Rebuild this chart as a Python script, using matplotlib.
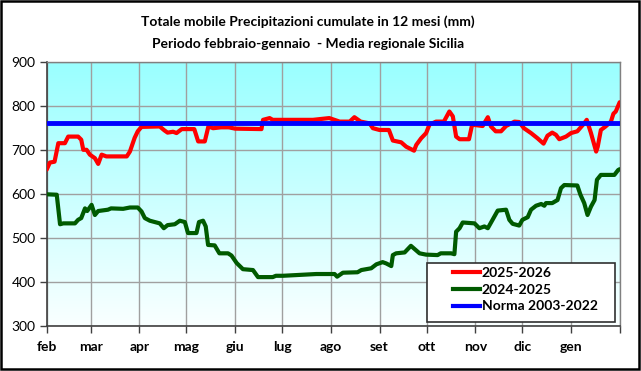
import numpy as np
import matplotlib
matplotlib.use("Agg")
import matplotlib.pyplot as plt
from matplotlib.patches import Rectangle
from matplotlib.lines import Line2D

plt.rcParams['font.family'] = ['Lato', 'DejaVu Sans']

# ---- data ----
month_labels = ["feb", "mar", "apr", "mag", "giu", "lug", "ago", "set", "ott", "nov", "dic", "gen"]
month_starts = [0, 28, 59, 89, 120, 150, 181, 212, 242, 273, 303, 334, 365]

red_days = [0, 2, 5, 7.4, 11.6, 13.7, 20, 22, 23.3, 25.4, 27.5, 30.7, 32.8, 35, 38, 51, 53, 56, 58, 60.4,
            72, 75, 77, 80.5, 82.7, 86, 94, 96.5, 100.7, 103, 106, 111, 116, 120, 136.8, 137.8, 142, 144,
            169.6, 180, 186.6, 193, 196, 200, 205.7, 207.8, 212, 218, 220.5, 225.8, 229, 234, 235.4, 238.5,
            241.7, 243.8, 248, 253, 256.5, 258.7, 260.8, 263, 269, 271, 277.7, 281, 283, 286, 289.4, 292.6,
            298, 301, 304, 308.5, 312.7, 316.5, 319, 322, 324.4, 326.5, 330.8, 334, 338, 342.4, 344, 346.7,
            350, 351, 353, 356, 359.4, 361, 362.5, 365]
red_vals = [655, 671, 673, 715, 715, 730, 730, 723, 700, 700, 689, 681, 668, 689, 685, 685, 696, 727, 742, 752,
            753, 744, 739, 741, 738, 747, 747, 719, 719, 753, 749, 751, 751, 748, 747, 768, 772, 768,
            768, 772, 764, 764, 774, 764, 760, 749, 745, 745, 721, 717, 707, 698, 711, 726,
            738, 757, 764, 764, 787, 776, 730, 724, 724, 757, 754, 774, 753, 742, 742, 754,
            764, 763, 749, 738, 726, 714, 732, 739, 734, 724, 730, 738, 742, 760, 768, 738,
            696, 707, 745, 753, 764, 782, 787, 808]

green_days = [0, 6.4, 8.5, 10.6, 18, 20, 22, 24.4, 25.8, 28.6, 30.7, 32.8, 39, 41, 48.7, 53, 58, 60.4, 62.5,
              65.7, 72, 74.6, 77, 81.6, 84.8, 88, 90, 95.4, 97, 99.6, 101.3, 102.8, 107, 110, 115.5, 117.7,
              121, 125, 131.4, 134.6, 144, 146, 150.5, 171.7, 183.4, 185, 188.7, 198, 200.4, 206.7, 210,
              214, 216.3, 219.5, 220.5, 222.6, 228, 232, 237.5, 241.7, 249, 251, 257.6, 259.7, 260.8, 263,
              265, 272.5, 275.6, 278.8, 281, 284, 287.3, 292.6, 294.7, 296.8, 301, 303, 306.4, 308.5, 311.7,
              315, 317, 318, 322, 325.4, 327.6, 329.7, 338, 340, 342.4, 344.5, 346.7, 349, 350.5, 353,
              361.6, 364, 365]
green_vals = [599, 598, 531, 533, 533, 541, 545, 567, 561, 575, 552, 561, 564, 567, 566, 569, 569, 560, 545,
              539, 533, 522, 529, 531, 539, 536, 511, 511, 536, 539, 526, 484, 483, 465, 465, 460,
              443, 429, 427, 411, 411, 414, 414, 418, 418, 412, 421, 422, 427, 431, 440,
              445, 442, 436, 461, 465, 467, 482, 465, 462, 461, 465, 465, 463, 514, 522,
              535, 533, 522, 526, 522, 541, 562, 564, 541, 532, 528, 541, 547, 564, 573,
              577, 573, 579, 579, 586, 613, 620, 619, 598, 579, 552, 571, 586, 632, 643,
              643, 654, 656]

norma_value = 760
series_labels = ["2025-2026", "2024-2025", "Norma 2003-2022"]
title_lines = ["Totale mobile Precipitazioni cumulate in 12 mesi (mm)",
               "Periodo febbraio-gennaio  - Media regionale Sicilia"]

# ---- figure ----
W, H = 641, 371
fig = plt.figure(figsize=(W / 100, H / 100), dpi=100)
fig.patch.set_facecolor("white")

L, R, T, B = 46.7, 619.7, 61.7, 326.0
ax = fig.add_axes([L / W, 1 - B / H, (R - L) / W, (B - T) / H])

xmin, xmax = 0, 365
ymin, ymax = 300, 900
ax.set_xlim(xmin, xmax)
ax.set_ylim(ymin, ymax)

# gradient background
top = np.array([0.60, 1.0, 1.0])
bot = np.array([0.98, 1.0, 1.0])
t = np.linspace(0, 1, 256)[:, None]
grad = (top[None, :] * (1 - t) + bot[None, :] * t)[:, None, :]
ax.imshow(grad, extent=[xmin, xmax, ymin, ymax], aspect="auto", zorder=0, origin="upper")

# grid
ax.set_xticks(month_starts)
ax.set_xticklabels(month_labels + [""], fontweight="bold", fontsize=10)
ax.set_yticks(np.arange(300, 901, 100))
ax.tick_params(axis="y", labelsize=10, length=5, width=1, color="#404040", pad=3)
ax.tick_params(axis="x", length=5, width=1, color="#404040", pad=6)
ax.grid(True, color="#A0A0A0", linewidth=1.0, zorder=1)
ax.set_axisbelow(True)

for s in ["left", "bottom"]:
    ax.spines[s].set_color("#404040")
    ax.spines[s].set_linewidth(1.2)
for s in ["top", "right"]:
    ax.spines[s].set_color("#808080")
    ax.spines[s].set_linewidth(1.0)

# lines
ax.plot(green_days, green_vals, color="#005A00", lw=3.0, solid_joinstyle="round",
        solid_capstyle="round", zorder=3)
ax.plot(red_days, red_vals, color="#FF0000", lw=3.0, solid_joinstyle="round",
        solid_capstyle="round", zorder=4)
ax.axhline(norma_value, color="#0000FF", lw=3.5, zorder=5)

# legend
ax.add_patch(Rectangle((0.663, 0.016), 0.329, 0.221, transform=ax.transAxes,
                       facecolor="white", edgecolor="#303030", lw=1.2, zorder=6))
handles = [Line2D([], [], color="#FF0000", lw=3.0),
           Line2D([], [], color="#005A00", lw=3.0),
           Line2D([], [], color="#0000FF", lw=3.0)]
leg = ax.legend(handles, series_labels, loc="upper left", bbox_to_anchor=(0.705, 0.235),
                frameon=False, prop={"weight": "bold", "size": 10}, handlelength=1.9,
                handletextpad=0.15, labelspacing=0.35, borderpad=0.2, borderaxespad=0)
leg.set_zorder(7)

# title
fig.text(308 / W, 1 - 22 / H, title_lines[0], ha="center", va="center", fontweight="bold", fontsize=10)
fig.text(308 / W, 1 - 44 / H, title_lines[1], ha="center", va="center", fontweight="bold", fontsize=10)

# chart border
fig.patches.append(Rectangle((1 / W, 2 / H), 638 / W, 368 / H, transform=fig.transFigure,
                             fill=False, edgecolor="black", lw=1.8))

fig.savefig("out.png", dpi=100)
